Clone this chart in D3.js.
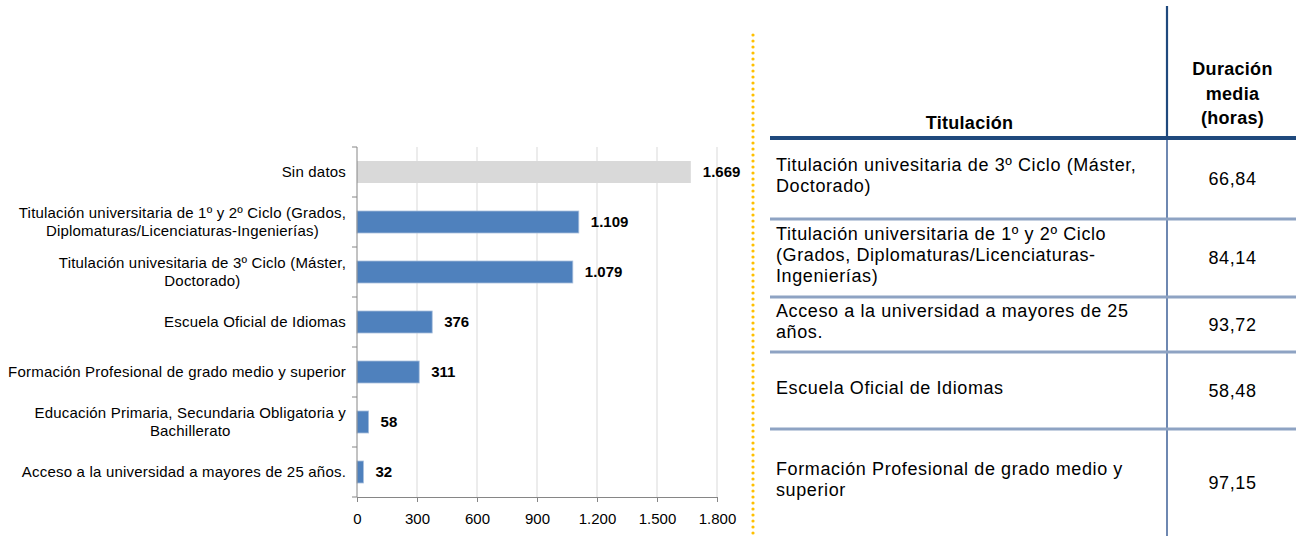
<!DOCTYPE html>
<html>
<head>
<meta charset="utf-8">
<script src="https://cdn.jsdelivr.net/npm/d3@7"></script>
<style>
  html, body { margin: 0; padding: 0; background: #fff; }
  svg { display: block; font-family: "Liberation Sans", Arial, sans-serif; }
</style>
</head>
<body>
<svg id="chart" width="1296" height="536"></svg>
<script>
// ---------- Data ----------
const categories = [
  ["Sin datos"],
  ["Titulación universitaria de 1º y 2º Ciclo (Grados,", "Diplomaturas/Licenciaturas-Ingenierías)"],
  ["Titulación univesitaria de 3º Ciclo (Máster,", "Doctorado)"],
  ["Escuela Oficial de Idiomas"],
  ["Formación Profesional de grado medio y superior"],
  ["Educación Primaria, Secundaria Obligatoria y", "Bachillerato"],
  ["Acceso a la universidad a mayores de 25 años."]
];
const values = [1669, 1109, 1079, 376, 311, 58, 32];
const tickValues = [0, 300, 600, 900, 1200, 1500, 1800];
const tickLabels = ["0", "300", "600", "900", "1.200", "1.500", "1.800"];

const tableHeaderTitle = ["Titulación"];
const tableHeaderValue = ["Duración", "media", "(horas)"];
const tableNames = [
  ["Titulación univesitaria de 3º Ciclo (Máster,", "Doctorado)"],
  ["Titulación universitaria de 1º y 2º Ciclo", "(Grados, Diplomaturas/Licenciaturas-", "Ingenierías)"],
  ["Acceso a la universidad a mayores de 25", "años."],
  ["Escuela Oficial de Idiomas"],
  ["Formación Profesional de grado medio y", "superior"]
];
const tableValues = [66.84, 84.14, 93.72, 58.48, 97.15];

// ---------- Setup ----------
const esLocale = d3.formatLocale({ decimal: ",", thousands: ".", grouping: [3], currency: ["", " €"] });
const fmtInt = esLocale.format(",d");
const fmtDec = esLocale.format(",.2f");

const svg = d3.select("#chart");
svg.append("rect").attr("width", 1296).attr("height", 536).attr("fill", "#fff");

const x = d3.scaleLinear().domain([0, 1800]).range([357, 717]);
const y = d3.scaleBand().domain(d3.range(categories.length)).range([147, 497])
  .paddingInner(0.56).paddingOuter(0.28);

const chart = svg.append("g");

// gridlines
chart.append("g").selectAll("line").data(tickValues.slice(1)).join("line")
  .attr("x1", d => x(d)).attr("x2", d => x(d))
  .attr("y1", 147).attr("y2", 497)
  .attr("stroke", "#D9D9D9").attr("stroke-width", 1);

// bars
chart.append("g").selectAll("rect").data(values).join("rect")
  .attr("x", x(0))
  .attr("y", (d, i) => y(i))
  .attr("width", d => x(d) - x(0))
  .attr("height", y.bandwidth())
  .attr("fill", (d, i) => categories[i][0] === "Sin datos" ? "#D9D9D9" : "#4F81BD")
  .attr("stroke", (d, i) => categories[i][0] === "Sin datos" ? "none" : "#A7BEDC")
  .attr("stroke-width", 0.8);

// value labels
chart.append("g").selectAll("text").data(values).join("text")
  .attr("x", d => x(d) + 12)
  .attr("y", (d, i) => y(i) + y.bandwidth() / 2)
  .attr("dy", "0.36em")
  .attr("font-size", 15).attr("font-weight", "bold").attr("fill", "#000")
  .text(d => fmtInt(d));

// x axis
const xAxis = d3.axisBottom(x).tickValues(tickValues)
  .tickFormat((d, i) => tickLabels[i]).tickSize(5).tickPadding(11);
const gx = chart.append("g").attr("transform", "translate(0,497)").call(xAxis);
gx.select(".domain").attr("stroke", "#868686");
gx.selectAll(".tick line").attr("stroke", "#868686");
gx.selectAll(".tick text").attr("font-size", 15).attr("fill", "#000")
  .attr("font-family", "'Liberation Sans', Arial, sans-serif");

// y axis (category boundaries)
const bounds = d3.range(categories.length + 1).map(i => y.range()[0] + i * y.step());
chart.append("line").attr("x1", x(0)).attr("x2", x(0)).attr("y1", bounds[0]).attr("y2", 497)
  .attr("stroke", "#868686");
chart.append("g").selectAll("line").data(bounds).join("line")
  .attr("x1", x(0) - 5).attr("x2", x(0)).attr("y1", d => d).attr("y2", d => d)
  .attr("stroke", "#868686");

// category labels
const labelRight = 346, catLH = 18;
categories.forEach((lines, i) => {
  const g = chart.append("g");
  const cy = y(i) + y.bandwidth() / 2;
  const texts = lines.map((ln, j) => g.append("text")
    .attr("y", cy + (j - (lines.length - 1) / 2) * catLH)
    .attr("dy", "0.36em")
    .attr("font-size", 15).attr("letter-spacing", 0.2).attr("fill", "#000")
    .attr("text-anchor", "middle")
    .text(ln));
  const maxW = d3.max(texts, t => t.node().getComputedTextLength());
  texts.forEach(t => t.attr("x", labelRight - maxW / 2));
});

// dotted separator
svg.append("line").attr("x1", 753).attr("x2", 753).attr("y1", 35).attr("y2", 536)
  .attr("stroke", "#FFC000").attr("stroke-width", 3.2)
  .attr("stroke-dasharray", "0 6").attr("stroke-linecap", "round");

// ---------- Table ----------
const tbl = svg.append("g");
const tLeft = 770, tRight = 1296, colX = 1167;
const headerY = 138;
const rowBounds = [138, 219, 297, 352, 429, 536];
const tFont = 18, tLS = 0.6, tLH = 21;

// vertical column divider
tbl.append("line").attr("x1", colX).attr("x2", colX).attr("y1", 6).attr("y2", headerY)
  .attr("stroke", "#1F497D").attr("stroke-width", 2.2);
tbl.append("line").attr("x1", colX).attr("x2", colX).attr("y1", headerY).attr("y2", 536)
  .attr("stroke", "#4A6A9E").attr("stroke-width", 1.6);

// row separators
tbl.selectAll("line.rowsep").data(rowBounds.slice(1, -1)).join("line")
  .attr("class", "rowsep")
  .attr("x1", tLeft).attr("x2", tRight).attr("y1", d => d).attr("y2", d => d)
  .attr("stroke", "#8EA3C3").attr("stroke-width", 3);

// header line
tbl.append("line").attr("x1", tLeft).attr("x2", tRight).attr("y1", headerY).attr("y2", headerY)
  .attr("stroke", "#1F497D").attr("stroke-width", 4);

// header text
tbl.append("text").attr("x", (tLeft + colX) / 2 + 1).attr("y", 123).attr("dy", "0.36em")
  .attr("text-anchor", "middle").attr("font-size", tFont).attr("font-weight", "bold")
  .attr("letter-spacing", 0.3).text(tableHeaderTitle[0]);
tableHeaderValue.forEach((ln, j) => {
  tbl.append("text").attr("x", (colX + tRight) / 2 + 1).attr("y", 69 + j * 24.5).attr("dy", "0.36em")
    .attr("text-anchor", "middle").attr("font-size", tFont).attr("font-weight", "bold")
    .attr("letter-spacing", 0.3).text(ln);
});

// rows
tableNames.forEach((lines, i) => {
  const top = rowBounds[i], bot = rowBounds[i + 1];
  const cy = (top + bot) / 2;
  lines.forEach((ln, j) => {
    tbl.append("text").attr("x", 776)
      .attr("y", cy - 3 + (j - (lines.length - 1) / 2) * tLH)
      .attr("dy", "0.36em")
      .attr("font-size", tFont).attr("letter-spacing", tLS).attr("fill", "#000")
      .text(ln);
  });
  tbl.append("text").attr("x", (colX + tRight) / 2 + 1).attr("y", cy).attr("dy", "0.36em")
    .attr("text-anchor", "middle").attr("font-size", tFont).attr("letter-spacing", tLS)
    .attr("fill", "#000").text(fmtDec(tableValues[i]));
});
</script>
</body>
</html>
